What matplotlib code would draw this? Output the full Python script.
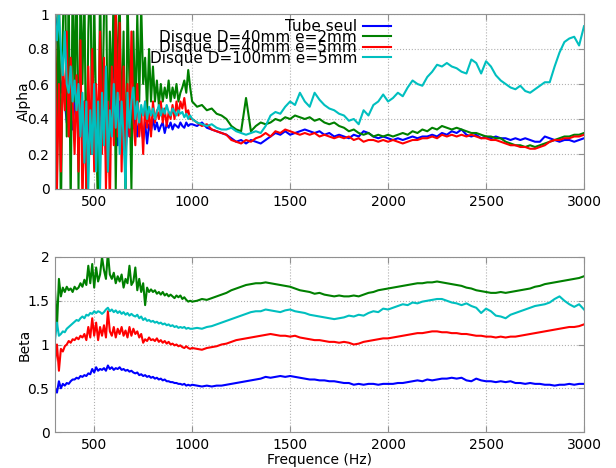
import numpy as np
import matplotlib
matplotlib.use('Agg')
import matplotlib.pyplot as plt
from matplotlib.ticker import FormatStrFormatter

# grille de frequences : pas fin dans la zone bruitee, puis plus large
freq = np.concatenate([np.arange(300, 1000, 10), np.arange(1000, 3001, 25)])

labels = ['Tube seul', 'Disque D=40mm e=2mm', 'Disque D=40mm e=5mm', 'Disque D=100mm e=5mm']
couleurs = ['#0000ff', '#008000', '#ff0000', '#00bfbf']

# ---- Alpha ----
alpha_tube = [
    1.0, 0.9, 0.75, 0.55, 0.62, 0.5, 0.38, 0.35, 0.4, 0.34,
    0.5, 0.6, 0.45, 0.55, 0.3, 0.5, 0.25, 0.45, 0.2, 0.55,
    0.35, 0.5, 0.25, 0.6, 0.3, 0.45, 0.2, 0.5, 0.35, 0.6,
    0.75, 0.4, 0.25, 0.5, 0.3, 0.45, 0.2, 0.4, 0.3, 0.45,
    0.35, 0.42, 0.3, 0.4, 0.36, 0.28, 0.38, 0.26, 0.37, 0.33,
    0.4, 0.34, 0.38, 0.33, 0.36, 0.38, 0.32, 0.37, 0.35, 0.38,
    0.34, 0.37, 0.36, 0.35, 0.38, 0.36, 0.35, 0.38, 0.36, 0.37,
    0.37, 0.36, 0.38, 0.35, 0.34, 0.33, 0.32, 0.31,
    0.29, 0.27, 0.28, 0.26, 0.28, 0.27, 0.26, 0.28,
    0.3, 0.32, 0.31, 0.33, 0.31, 0.32, 0.33, 0.34,
    0.33, 0.32, 0.33, 0.31, 0.32, 0.3, 0.31, 0.3,
    0.29, 0.31, 0.3, 0.33, 0.32, 0.3, 0.29, 0.3,
    0.29, 0.28, 0.29, 0.28, 0.29, 0.3, 0.29, 0.3,
    0.3, 0.31, 0.3, 0.32, 0.31, 0.33, 0.32, 0.34,
    0.31, 0.3, 0.31, 0.29, 0.3, 0.29, 0.3, 0.29,
    0.29, 0.28, 0.29, 0.28, 0.29, 0.28, 0.27, 0.27,
    0.3, 0.29, 0.28, 0.27, 0.28, 0.28, 0.27, 0.28,
    0.29]
alpha_d40e2 = [
    1.2, 0.1, 1.3, -0.2, 0.9, 1.4, 0.3, 1.1, -0.1, 1.2,
    0.5, 1.3, 0.0, 1.1, 0.6, 1.2, -0.1, 0.9, 1.3, 0.2,
    1.1, 0.4, -0.2, 1.2, 0.3, 1.0, 1.3, 0.1, 0.9, 0.5,
    1.2, 0.0, 0.8, 1.1, 0.3, 0.9, -0.1, 1.1, 0.6, 0.0,
    0.9, 0.4, 1.0, 0.5, 1.05, 0.6, 0.75, 0.45, 0.8, 0.5,
    0.7, 0.5, 0.62, 0.48, 0.6, 0.5, 0.58, 0.52, 0.62, 0.5,
    0.58, 0.52, 0.6, 0.5, 0.55, 0.58, 0.62, 0.55, 0.68, 0.58,
    0.5, 0.47, 0.48, 0.45, 0.46, 0.43, 0.42, 0.4,
    0.36, 0.34, 0.33, 0.52, 0.33, 0.36, 0.38, 0.37,
    0.38, 0.4, 0.39, 0.41, 0.4, 0.42, 0.41, 0.4,
    0.41, 0.39, 0.4, 0.38, 0.37, 0.38, 0.36, 0.35,
    0.33, 0.34, 0.32, 0.31, 0.32, 0.3, 0.31, 0.3,
    0.31, 0.3, 0.31, 0.32, 0.31, 0.33, 0.32, 0.34,
    0.33, 0.35, 0.34, 0.36, 0.35, 0.34, 0.35, 0.34,
    0.33, 0.32, 0.32, 0.31, 0.3, 0.3, 0.29, 0.29,
    0.27, 0.26, 0.25, 0.25, 0.24, 0.25, 0.24, 0.25,
    0.26, 0.27, 0.28, 0.29, 0.3, 0.3, 0.31, 0.31,
    0.32]
alpha_d40e5 = [
    0.9, 0.0, 0.6, 0.1, 0.7, 0.45, 0.9, 0.3, 0.75, 0.5,
    0.2, 0.65, 0.1, 0.85, -0.1, 0.5, 0.0, 0.7, 0.2, 0.8,
    0.1, 0.6, 0.3, 0.9, 0.2, 0.75, 0.0, 0.5, -0.1, 0.7,
    0.25, 1.1, 0.3, 0.95, 0.1, 0.7, 0.2, 0.6, 0.3, 0.9,
    0.4, 0.25, 0.6, 0.3, 0.45, 0.2, 0.5, 0.35, 0.45, 0.3,
    0.5, 0.38, 0.45, 0.4, 0.5, 0.38, 0.46, 0.36, 0.44, 0.4,
    0.48, 0.4, 0.5, 0.42, 0.5, 0.46, 0.52, 0.43, 0.45, 0.4,
    0.4, 0.38, 0.36, 0.37, 0.34, 0.33, 0.32, 0.31,
    0.28, 0.27, 0.26, 0.28, 0.27, 0.29, 0.3, 0.32,
    0.3, 0.33, 0.32, 0.34, 0.33, 0.32, 0.31, 0.32,
    0.31, 0.32, 0.3, 0.31, 0.3, 0.29, 0.3, 0.29,
    0.3, 0.28, 0.29, 0.27, 0.28, 0.28, 0.27, 0.28,
    0.27, 0.28, 0.27, 0.26, 0.27, 0.28, 0.28, 0.29,
    0.29, 0.3, 0.29, 0.31, 0.3, 0.31, 0.3, 0.31,
    0.3, 0.31, 0.3, 0.29, 0.29, 0.28, 0.28, 0.27,
    0.26, 0.25, 0.25, 0.24, 0.24, 0.23, 0.23, 0.24,
    0.25, 0.27, 0.28, 0.28, 0.29, 0.29, 0.3, 0.3,
    0.31]
alpha_d100e5 = [
    1.0, 0.85, 1.0, 0.8, 0.65, 0.9, 0.6, 0.55, 0.7, 0.5,
    0.62, 0.45, 0.6, 0.3, 0.55, 0.15, 0.5, 0.0, 0.45, 0.2,
    0.6, 0.1, 0.5, 0.0, 0.55, 0.25, 0.7, 0.1, 0.45, 0.3,
    0.6, 0.35, 0.55, 0.2, 0.5, 0.3, 0.0, 0.55, 0.35, 0.5,
    0.58, 0.4, 0.5, 0.38, 0.48, 0.42, 0.5, 0.4, 0.47, 0.42,
    0.46, 0.4, 0.44, 0.48, 0.42, 0.46, 0.43, 0.48, 0.44, 0.42,
    0.46, 0.44, 0.42, 0.45, 0.43, 0.44, 0.41, 0.43, 0.4, 0.42,
    0.4, 0.38, 0.37, 0.36, 0.37, 0.35, 0.34, 0.34,
    0.35, 0.33, 0.32, 0.31, 0.32, 0.33, 0.32, 0.36,
    0.42, 0.44, 0.43, 0.47, 0.5, 0.48, 0.55, 0.5,
    0.47, 0.55, 0.51, 0.48, 0.46, 0.45, 0.43, 0.42,
    0.39, 0.4, 0.37, 0.45, 0.42, 0.48, 0.5, 0.54,
    0.5, 0.52, 0.55, 0.53, 0.58, 0.62, 0.6, 0.59,
    0.64, 0.67, 0.71, 0.7, 0.72, 0.7, 0.69, 0.67,
    0.66, 0.74, 0.72, 0.66, 0.73, 0.7, 0.65, 0.62,
    0.6, 0.58, 0.57, 0.59, 0.56, 0.55, 0.57, 0.59,
    0.61, 0.61, 0.7, 0.78, 0.84, 0.86, 0.87, 0.82,
    0.93]

# ---- Beta ----
beta_tube = [
    0.5, 0.45, 0.58, 0.5, 0.55, 0.53, 0.56, 0.55, 0.58, 0.6,
    0.6, 0.62, 0.61, 0.64, 0.63, 0.65, 0.64, 0.67, 0.66, 0.72,
    0.68, 0.74, 0.7, 0.72, 0.71, 0.73, 0.7, 0.76, 0.72, 0.74,
    0.71, 0.73, 0.72, 0.74, 0.71, 0.72, 0.7, 0.71, 0.69, 0.7,
    0.68, 0.67, 0.68, 0.65, 0.66, 0.64, 0.65, 0.63, 0.64, 0.62,
    0.63, 0.61, 0.62, 0.6, 0.61, 0.59, 0.6, 0.58, 0.58, 0.57,
    0.57, 0.56, 0.56, 0.55, 0.55, 0.54, 0.55, 0.53, 0.54, 0.53,
    0.54, 0.53, 0.52, 0.53, 0.52, 0.53, 0.53, 0.54,
    0.55, 0.56, 0.57, 0.58, 0.59, 0.6, 0.61, 0.63,
    0.62, 0.63, 0.64, 0.63, 0.64, 0.63, 0.62, 0.61,
    0.6, 0.6, 0.59, 0.59, 0.58, 0.58, 0.57, 0.56,
    0.56, 0.54, 0.55, 0.54, 0.55, 0.55, 0.54, 0.55,
    0.55, 0.55, 0.56, 0.56, 0.57, 0.58, 0.59, 0.58,
    0.6, 0.59, 0.6, 0.61, 0.61, 0.62, 0.61, 0.62,
    0.59, 0.58, 0.61, 0.59, 0.58, 0.58, 0.57, 0.58,
    0.57, 0.58, 0.56, 0.56, 0.55, 0.56, 0.55, 0.55,
    0.54, 0.54, 0.53, 0.54, 0.54, 0.55, 0.54, 0.55,
    0.55]
beta_d40e2 = [
    1.62, 1.2, 1.75, 1.55, 1.65, 1.6, 1.66, 1.62, 1.64, 1.6,
    1.66, 1.63, 1.65, 1.7, 1.66, 1.74, 1.68, 1.9, 1.7, 1.92,
    1.65, 1.88, 1.72, 1.8, 2.0, 1.85, 1.75, 2.05, 1.8, 1.75,
    1.82, 1.7, 1.78, 1.72, 1.8, 1.65, 1.75, 1.7, 1.9, 1.68,
    1.72, 1.88, 1.62, 1.75, 1.6, 1.7, 1.45, 1.65, 1.6, 1.63,
    1.6, 1.62, 1.58, 1.6, 1.57, 1.6, 1.56, 1.58, 1.55, 1.57,
    1.55, 1.53, 1.56, 1.54, 1.56, 1.52, 1.54, 1.51, 1.49, 1.5,
    1.49, 1.5, 1.52, 1.51, 1.53, 1.55, 1.57, 1.59,
    1.62, 1.64, 1.66, 1.68, 1.69, 1.7, 1.7, 1.71,
    1.7, 1.69, 1.68, 1.67, 1.66, 1.64, 1.62, 1.61,
    1.6, 1.58, 1.59, 1.57, 1.56, 1.55, 1.56, 1.55,
    1.55, 1.56, 1.55, 1.57, 1.59, 1.6, 1.62, 1.63,
    1.64, 1.65, 1.66, 1.67, 1.68, 1.69, 1.7, 1.7,
    1.71, 1.71, 1.72, 1.71, 1.7, 1.69, 1.68, 1.67,
    1.65, 1.64, 1.62, 1.61, 1.6, 1.59, 1.59, 1.6,
    1.59, 1.6, 1.61, 1.62, 1.63, 1.64, 1.66, 1.67,
    1.69, 1.7, 1.71, 1.72, 1.73, 1.74, 1.75, 1.76,
    1.78]
beta_d40e5 = [
    0.8, 1.0, 0.7, 0.95, 0.92, 0.98, 1.0, 1.04, 1.02, 1.06,
    1.05, 1.08, 1.06, 1.1, 1.08, 1.12, 1.05, 1.2, 1.08, 1.3,
    1.1, 1.25, 1.05, 1.2, 1.1, 1.22, 1.08, 1.38, 1.15, 1.1,
    1.2, 1.08, 1.18, 1.12, 1.2, 1.1, 1.16, 1.08, 1.2, 1.1,
    1.18, 1.12, 1.15, 1.08, 1.12, 1.02, 1.06, 1.04, 1.08, 1.05,
    1.06, 1.04, 1.07, 1.03, 1.05, 1.02, 1.04, 1.01, 1.03, 1.0,
    1.01, 0.99, 1.0, 0.98, 0.99, 0.97, 0.96, 0.98, 0.96, 0.95,
    0.96, 0.95, 0.94, 0.96, 0.97, 0.98, 1.0, 1.01,
    1.03, 1.05, 1.06, 1.07, 1.08, 1.09, 1.1, 1.11,
    1.12, 1.11, 1.1, 1.1, 1.09, 1.1, 1.08, 1.07,
    1.06, 1.05, 1.05, 1.04, 1.03, 1.03, 1.02, 1.03,
    1.02, 1.0, 1.01, 1.03, 1.04, 1.05, 1.06, 1.07,
    1.07, 1.08, 1.09, 1.1, 1.11, 1.12, 1.13, 1.13,
    1.14, 1.15, 1.15, 1.14, 1.14, 1.13, 1.13, 1.12,
    1.12, 1.11, 1.1, 1.1, 1.09, 1.09, 1.08, 1.09,
    1.08, 1.09, 1.09, 1.1, 1.11, 1.12, 1.13, 1.14,
    1.15, 1.16, 1.17, 1.18, 1.19, 1.2, 1.2, 1.21,
    1.23]
beta_d100e5 = [
    1.05, 1.25, 1.1, 1.12, 1.15, 1.14, 1.18, 1.2, 1.22, 1.24,
    1.26, 1.28, 1.27, 1.3, 1.32, 1.3, 1.34, 1.33, 1.36, 1.35,
    1.38, 1.36, 1.38, 1.37, 1.35, 1.37, 1.4, 1.42, 1.38, 1.4,
    1.37, 1.39, 1.36, 1.38, 1.35, 1.37, 1.34, 1.36, 1.33, 1.35,
    1.33, 1.32, 1.34, 1.3, 1.32, 1.28, 1.3, 1.27, 1.28, 1.26,
    1.27, 1.25, 1.26, 1.24, 1.25, 1.23, 1.24, 1.22, 1.23, 1.21,
    1.22, 1.2, 1.21, 1.19, 1.2, 1.19, 1.2, 1.18, 1.19, 1.18,
    1.18, 1.19, 1.18, 1.2, 1.21, 1.23, 1.25, 1.27,
    1.29, 1.31, 1.33, 1.35, 1.37, 1.38, 1.38, 1.4,
    1.39, 1.38, 1.37, 1.39, 1.4, 1.38, 1.37, 1.36,
    1.34, 1.33, 1.32, 1.31, 1.3, 1.29, 1.3, 1.31,
    1.33, 1.32, 1.34, 1.33, 1.36, 1.38, 1.37, 1.41,
    1.4, 1.42, 1.44, 1.46, 1.45, 1.48, 1.47, 1.49,
    1.5, 1.51, 1.52, 1.52, 1.5, 1.48, 1.47, 1.45,
    1.47, 1.44, 1.42, 1.36, 1.41, 1.38, 1.33, 1.32,
    1.3, 1.34, 1.36, 1.38, 1.4, 1.42, 1.44, 1.45,
    1.46, 1.48, 1.52, 1.55, 1.5, 1.46, 1.43, 1.46,
    1.4]

alphas = [alpha_tube, alpha_d40e2, alpha_d40e5, alpha_d100e5]
betas = [beta_tube, beta_d40e2, beta_d40e5, beta_d100e5]

plt.rcParams['font.family'] = 'DejaVu Sans'
fig = plt.figure(figsize=(6.16, 4.68), dpi=100)
ax1 = fig.add_axes([55/616, 1-189/468, 529/616, 175/468])
ax2 = fig.add_axes([55/616, 1-432/468, 529/616, 175/468])

for a, lab, c in zip(alphas, labels, couleurs):
    ax1.plot(freq, a, color=c, lw=1.5, label=lab)
for b, c in zip(betas, couleurs):
    ax2.plot(freq, b, color=c, lw=1.5)

for ax in (ax1, ax2):
    ax.set_xlim(300, 3000)
    ax.set_xticks([500, 1000, 1500, 2000, 2500, 3000])
    ax.grid(True, color='#b0b0b0', linestyle=':', lw=0.8)
    ax.tick_params(direction='in', top=True, right=True, length=4,
                   color='#909090', labelsize=10, pad=4)
    ax.yaxis.set_major_formatter(FormatStrFormatter('%g'))
    for s in ax.spines.values():
        s.set_color('#909090')

ax1.set_ylim(0, 1)
ax1.set_yticks([0, 0.2, 0.4, 0.6, 0.8, 1])
ax2.set_ylim(0, 2)
ax2.set_yticks([0, 0.5, 1, 1.5, 2])

ax1.set_ylabel('Alpha', fontsize=10)
ax2.set_ylabel('Beta', fontsize=10)
ax1.yaxis.set_label_coords(-0.045, 0.5)
ax2.yaxis.set_label_coords(-0.045, 0.5)
ax2.set_xlabel('Frequence (Hz)', fontsize=10, labelpad=1)

ax1.legend(loc='upper right', bbox_to_anchor=(391/616, 1-19/468),
           bbox_transform=fig.transFigure, frameon=False, markerfirst=False,
           fontsize=11, labelspacing=-0.29, handlelength=1.83,
           handletextpad=0.39, borderpad=0, borderaxespad=0)

fig.savefig('out.png', dpi=100)
